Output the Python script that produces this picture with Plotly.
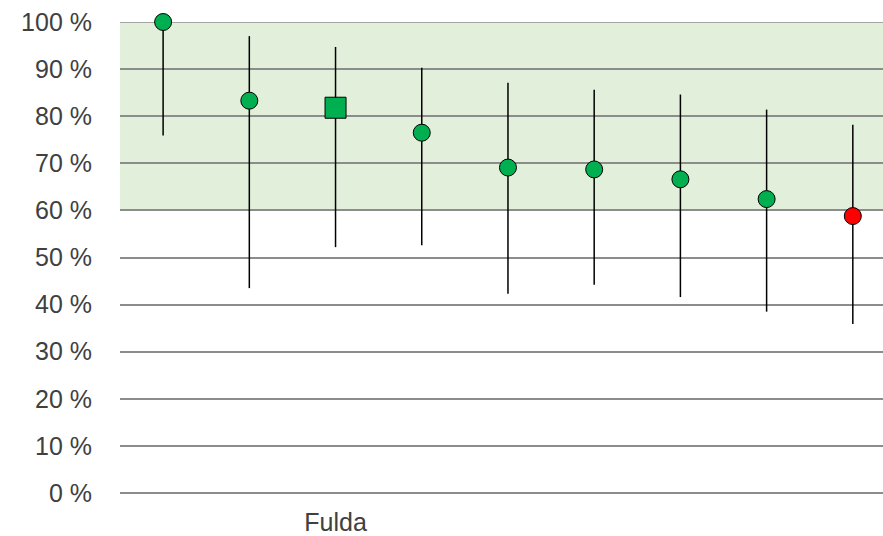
import plotly.graph_objects as go

labels = ["", "", "Fulda", "", "", "", "", "", ""]
values = [100, 83.3, 81.8, 76.5, 69.1, 68.7, 66.6, 62.4, 58.8]
high = [100, 97.0, 94.7, 90.3, 87.1, 85.6, 84.6, 81.4, 78.2]
low = [75.9, 43.5, 52.2, 52.6, 42.3, 44.2, 41.6, 38.5, 35.9]
colors = ["#00B050"] * 8 + ["#FF0000"]
symbols = ["circle", "circle", "square", "circle", "circle", "circle", "circle", "circle", "circle"]
sizes = [17, 17, 21, 17, 17, 17, 17, 17, 17]
yticks = [0, 10, 20, 30, 40, 50, 60, 70, 80, 90, 100]
band_low, band_high = 60, 100

x = list(range(len(values)))
fig = go.Figure()
fig.add_trace(go.Scatter(
    x=x, y=values, mode="markers",
    marker=dict(color=colors, symbol=symbols, size=sizes, opacity=1,
                line=dict(color="black", width=1)),
    error_y=dict(type="data", symmetric=False,
                 array=[h - v for h, v in zip(high, values)],
                 arrayminus=[v - l for v, l in zip(values, low)],
                 color="black", thickness=1.5, width=0),
    cliponaxis=False, showlegend=False,
))
fig.add_shape(type="rect", xref="paper", x0=0, x1=1, yref="y", y0=band_low, y1=band_high,
              fillcolor="#E2EFDA", line=dict(width=0), layer="below")
fig.add_shape(type="line", xref="paper", x0=0, x1=1, yref="y", y0=yticks[-1], y1=yticks[-1],
              line=dict(color="#8C8C8C", width=1.5), layer="below")
fig.update_layout(
    width=883, height=536,
    margin=dict(l=120, r=0, t=22, b=39),
    plot_bgcolor="white", paper_bgcolor="white",
    font=dict(family="Liberation Sans, Arial", size=25, color="#404040"),
    xaxis=dict(range=[-0.5, 8.35], tickvals=x, ticktext=labels, showgrid=False,
               zeroline=False, showline=False, ticks="", ticklabelstandoff=12),
    yaxis=dict(range=[0, 100], tickvals=yticks, ticktext=[f"{v} %" for v in yticks],
               showgrid=True, gridcolor="#8C8C8C", gridwidth=1.5,
               zeroline=True, zerolinecolor="#8C8C8C", zerolinewidth=1.5,
               showline=False, ticks="", ticklabelstandoff=27),
)
fig.write_html("out.html", post_script="document.body.style.margin='0';",
               config={"displayModeBar": False})
